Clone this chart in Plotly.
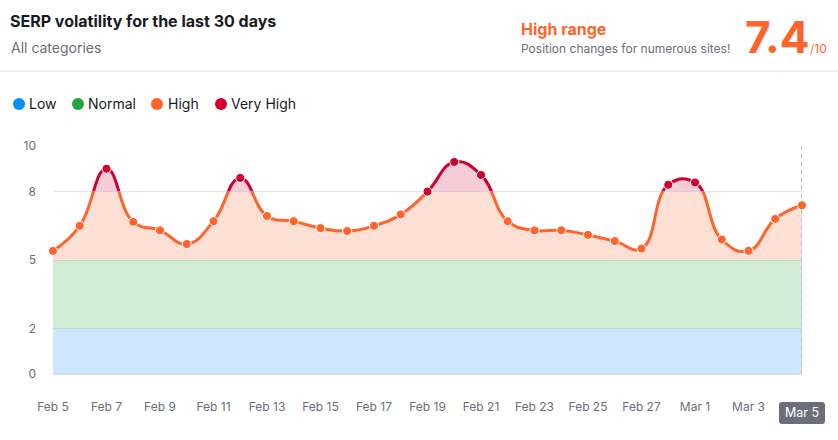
import plotly.graph_objects as go

# chart data
dates = [
    "Feb 5", "Feb 6", "Feb 7", "Feb 8", "Feb 9", "Feb 10", "Feb 11", "Feb 12", "Feb 13", "Feb 14",
    "Feb 15", "Feb 16", "Feb 17", "Feb 18", "Feb 19", "Feb 20", "Feb 21", "Feb 22", "Feb 23", "Feb 24",
    "Feb 25", "Feb 26", "Feb 27", "Feb 28", "Mar 1", "Mar 2", "Mar 3", "Mar 4", "Mar 5",
]
scores = [
    5.4, 6.5, 9.0, 6.67, 6.3, 5.7, 6.7, 8.6, 6.93, 6.7,
    6.4, 6.27, 6.5, 7.0, 8.0, 9.3, 8.73, 6.7, 6.3, 6.3,
    6.1, 5.83, 5.5, 8.3, 8.4, 5.9, 5.4, 6.8, 7.4,
]
y_ticks = [0, 2, 5, 8, 10]
x_ticks = [
    "Feb 5", "Feb 7", "Feb 9", "Feb 11", "Feb 13", "Feb 15", "Feb 17", "Feb 19",
    "Feb 21", "Feb 23", "Feb 25", "Feb 27", "Mar 1", "Mar 3",
]
legend_names = ["Low", "Normal", "High", "Very High"]
legend_colors = ["#0a8ff8", "#1fa63c", "#ff642d", "#d6002f"]
current_label = "Mar 5"

W, H = 838, 440
LEFT, RIGHT, TOP, BOTTOM = 53, 802, 146, 374
GRAY = "#6c6e79"
ORANGE = "#ff642d"
RED = "#cf0030"
FONT = "Inter"
SMOOTHING = 1.3


def px(x):
    return x / W


def py(y):
    return 1 - y / H


def dom(v):
    return py(BOTTOM) + v / 10 * (py(TOP) - py(BOTTOM))


fig = go.Figure()

# coloured bands
fig.add_trace(go.Scatter(x=[dates[0], dates[-1]], y=[5, 5], fill="tozeroy", mode="none", fillcolor="#d1edd6", hoverinfo="skip"))
fig.add_trace(go.Scatter(x=[dates[0], dates[-1]], y=[2, 2], fill="tozeroy", mode="none", fillcolor="#cbe6fd", hoverinfo="skip"))

# same line twice, each clipped by its own y axis domain
fig.add_trace(
    go.Scatter(
        x=dates, y=scores, yaxis="y2", mode="lines", fill="tozeroy", fillcolor="#fedfd4",
        line={"color": ORANGE, "width": 3, "shape": "spline", "smoothing": SMOOTHING},
    )
)
fig.add_trace(
    go.Scatter(
        x=dates, y=scores, yaxis="y3", mode="lines", fill="tozeroy", fillcolor="#f6ccd8",
        line={"color": RED, "width": 3, "shape": "spline", "smoothing": SMOOTHING},
    )
)

# dashed marker line for the current day + the points
fig.add_trace(
    go.Scatter(
        x=[dates[-1], dates[-1]], y=[0, 10], yaxis="y4", mode="lines", cliponaxis=False,
        line={"color": "#c2c4cd", "width": 2, "dash": "5px,3px"},
    )
)
fig.add_trace(
    go.Scatter(
        x=dates, y=scores, yaxis="y4", mode="markers", cliponaxis=False,
        marker={
            "size": 9,
            "color": [RED if s >= 8 else ORANGE for s in scores],
            "line": {"color": "white", "width": 1},
        },
    )
)

shapes = [
    # header divider
    {"type": "line", "xref": "paper", "yref": "paper", "x0": 0, "x1": 1, "y0": py(71), "y1": py(71),
     "line": {"color": "#e0e1e6", "width": 1}},
    # darker base line under the bands
    {"type": "line", "xref": "paper", "yref": "paper", "x0": px(LEFT), "x1": px(RIGHT), "y0": py(BOTTOM), "y1": py(BOTTOM),
     "line": {"color": "#bcd0e4", "width": 1}},
    # pill behind the last date
    {"type": "path", "xref": "paper", "yref": "paper", "layer": "below",
     "path": (
         f"M {px(782)},{py(402)} L {px(822)},{py(402)} Q {px(825)},{py(402)} {px(825)},{py(405)} "
         f"L {px(825)},{py(421)} Q {px(825)},{py(424)} {px(822)},{py(424)} "
         f"L {px(782)},{py(424)} Q {px(779)},{py(424)} {px(779)},{py(421)} "
         f"L {px(779)},{py(405)} Q {px(779)},{py(402)} {px(782)},{py(402)} Z"
     ),
     "fillcolor": GRAY, "line": {"width": 0}},
]

annotations = [
    {"text": "<b>SERP volatility for the last 30 days</b>", "x": px(9), "y": py(21), "font": {"size": 16, "color": "#191b23"}},
    {"text": "All categories", "x": px(10), "y": py(47), "font": {"size": 14, "color": GRAY}},
    {"text": "<b>High range</b>", "x": px(520), "y": py(29), "font": {"size": 16, "color": ORANGE}},
    {"text": "Position changes for numerous sites!", "x": px(520), "y": py(48), "font": {"size": 12, "color": GRAY}},
    {"text": "<b>7.4</b>", "x": px(744), "y": py(37), "font": {"size": 44, "color": ORANGE}},
    {"text": "/10", "x": px(809), "y": py(49), "font": {"size": 12, "color": ORANGE}},
    {"text": current_label, "x": px(802), "y": py(412), "xanchor": "center", "font": {"size": 12.5, "color": "white"}},
]

# hand built legend, plotly's own one can't get this tight
legend_dots = [19, 78, 157, 221]
legend_text = [28, 87, 167, 230]
for name, color, dot, tx in zip(legend_names, legend_colors, legend_dots, legend_text):
    shapes.append(
        {"type": "circle", "xref": "paper", "yref": "paper", "x0": px(dot - 6), "x1": px(dot + 6),
         "y0": py(110), "y1": py(98), "fillcolor": color, "line": {"width": 0}}
    )
    annotations.append({"text": name, "x": px(tx), "y": py(104), "font": {"size": 14, "color": "#191b23"}})

for a in annotations:
    a.update(xref="paper", yref="paper", showarrow=False, borderpad=0)
    a.setdefault("xanchor", "left")
    a["yanchor"] = "middle"

hidden = {"anchor": "x", "visible": False, "showgrid": False, "fixedrange": True}
fig.update_layout(
    width=W,
    height=H,
    margin={"l": 0, "r": 0, "t": 0, "b": 0, "autoexpand": False},
    paper_bgcolor="white",
    plot_bgcolor="rgba(0,0,0,0)",
    showlegend=False,
    font={"family": FONT, "color": GRAY, "size": 12},
    xaxis={
        "type": "category",
        "categoryorder": "array",
        "categoryarray": dates,
        "domain": [px(LEFT), px(RIGHT)],
        "range": [0, len(dates) - 1],
        "tickmode": "array",
        "tickvals": x_ticks,
        "ticktext": x_ticks,
        "ticks": "",
        "ticklabelstandoff": 24,
        "showgrid": False,
        "zeroline": False,
        "tickangle": 0,
    },
    yaxis={
        "domain": [py(BOTTOM), py(TOP)],
        "range": [0, 10],
        "tickvals": y_ticks,
        "ticks": "",
        "ticklabelstandoff": 16,
        "showgrid": False,
        "zeroline": False,
    },
    yaxis2={**hidden, "domain": [dom(5), dom(8)], "range": [5, 8]},
    yaxis3={**hidden, "domain": [dom(8), dom(10)], "range": [8, 10]},
    yaxis4={
        "anchor": "x",
        "domain": [py(BOTTOM), py(TOP)],
        "range": [0, 10],
        "tickvals": y_ticks,
        "showticklabels": False,
        "ticks": "",
        "gridcolor": "rgba(170,175,195,0.35)",
        "zeroline": False,
    },
    shapes=shapes,
    annotations=annotations,
)

# drop the browser's default 8px body margin
fig.write_html("out.html", config={"displayModeBar": False}, post_script="document.body.style.margin = '0';")
